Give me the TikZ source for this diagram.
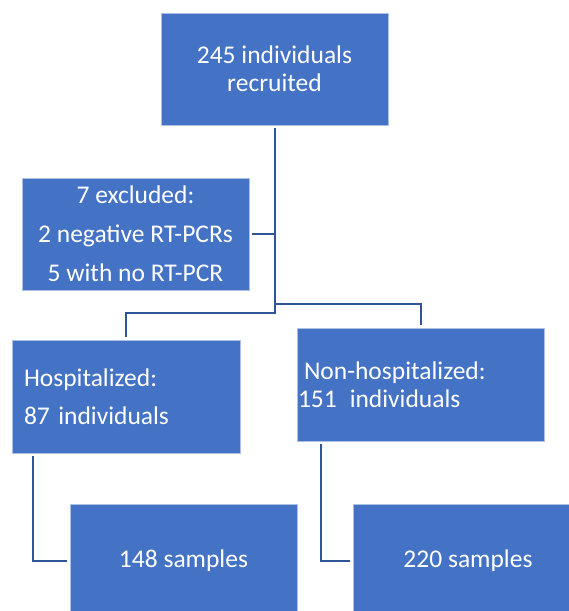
\documentclass[tikz,border=0pt]{standalone}
\usepackage{fontspec}
\setmainfont{Carlito}
\usetikzlibrary{positioning}
\definecolor{boxblue}{HTML}{4472C4}
\definecolor{lineblue}{HTML}{2F5597}

\begin{document}
\begin{tikzpicture}[x=1pt, y=-1pt,
                    box/.style={rectangle, draw=white!55!boxblue, line width=0.6pt, fill=boxblue, text=white, outer sep=3pt, font=\fontsize{25.5}{28}\selectfont},
                    link/.style={draw=lineblue, line width=2pt}]
                    \useasboundingbox (0,0) rectangle (569,611);
                    % Nodes
                    \node (recruited) [box, minimum width=227, minimum height=112, align=center] at (274.5,69) {245 individuals\\recruited};
                    \node (excluded) [box, minimum width=227, minimum height=112, align=center, font=\fontsize{25.5}{39}\selectfont] at (135.5,234) {7 excluded:\\2 negative RT-PCRs\\5 with no RT-PCR};
                    \node (hosp) [box, minimum width=228, minimum height=113, inner xsep=12pt, text width=204pt, align=left, font=\fontsize{25.5}{38}\selectfont] at (126,396.5) {Hospitalized:\\87 individuals};
                    \node (nonhosp) [box, minimum width=247, minimum height=113, inner xsep=1pt, text width=245pt, align=left] at (420.5,384.5) {\hspace*{6pt}Non-hospitalized:\\151\hspace{13pt}individuals};
                    \node (samples148) [box, minimum width=227, minimum height=113] at (183.5,560.5) {148 samples};
                    \node (samples220) [box, minimum width=230, minimum height=113] at (468,560.5) {220 samples};

                    % Lines
                    \draw[link] (recruited.south) -- ++(0,185) -| (hosp.north);
                    \draw[link] (recruited.south) ++(0,176) -| (nonhosp.north);
                    \draw[link] (excluded.east) -- (excluded.east -| recruited.south);
                    \draw[link] (hosp.south west) ++(24,0) |- (samples148.west);
                    \draw[link] (nonhosp.south west) ++(27,0) |- (samples220.west);
                \end{tikzpicture}
\end{document}
